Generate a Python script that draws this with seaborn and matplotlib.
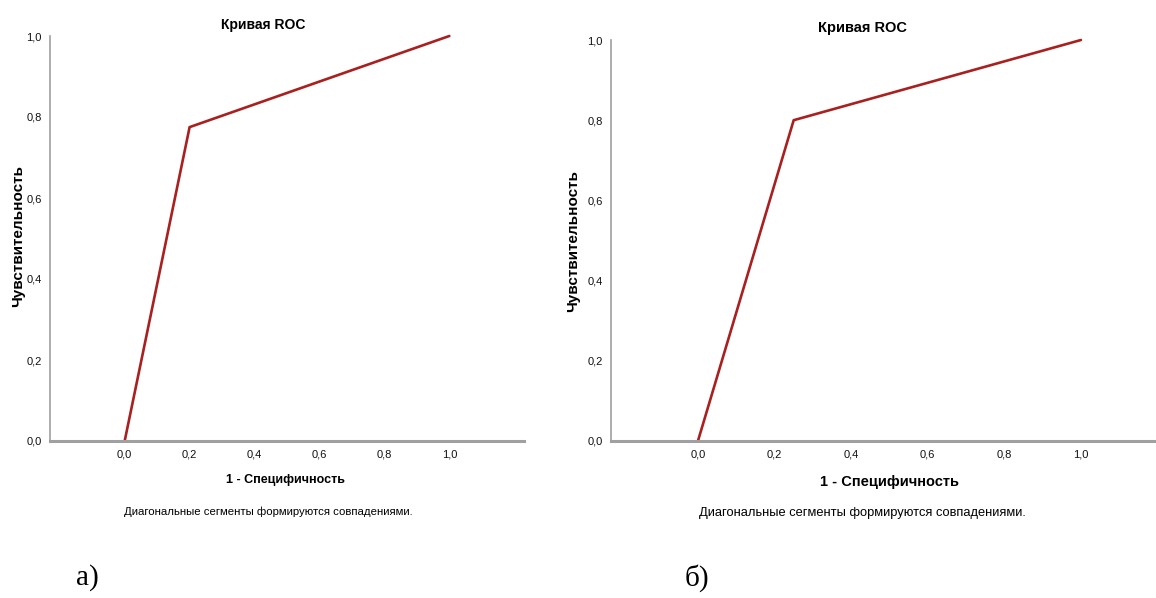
import numpy as np
import pandas as pd
import matplotlib
matplotlib.use('Agg')
import matplotlib.pyplot as plt
import matplotlib.ticker as plticker
import seaborn as sb

# ROC points
fpr_a = [0.0, 0.2, 1.0]
tpr_a = [0.0, 0.775, 1.0]
fpr_b = [0.0, 0.25, 1.0]
tpr_b = [0.0, 0.8, 1.0]
ticks = [0.0, 0.2, 0.4, 0.6, 0.8, 1.0]

sb.set_style('white')
plt.rcParams['font.family'] = ['Liberation Sans Narrow', 'Liberation Sans', 'DejaVu Sans']
plt.rcParams['text.color'] = 'black'

W, H = 1156, 598
fig = plt.figure(figsize=(W / 100, H / 100), dpi=100)

def comma(v, pos):
    return ('%.1f' % v).replace('.', ',')

def panel(px_left, px_right, px_top, px_bottom, xlim, fpr, tpr):
    ax = fig.add_axes([px_left / W, 1 - px_bottom / H,
                       (px_right - px_left) / W, (px_bottom - px_top) / H])
    df = pd.DataFrame({'fpr': fpr, 'tpr': tpr})
    sb.lineplot(data=df, x='fpr', y='tpr', ax=ax, color='#a8201f',
                linewidth=1.9, clip_on=False)
    ax.set_xlim(*xlim)
    ax.set_ylim(0, 1.0)
    ax.set_xticks(ticks)
    ax.set_yticks(ticks)
    ax.xaxis.set_major_formatter(plticker.FuncFormatter(comma))
    ax.yaxis.set_major_formatter(plticker.FuncFormatter(comma))
    ax.set_xlabel('')
    ax.set_ylabel('')
    for s in ['top', 'right']:
        ax.spines[s].set_visible(False)
    ax.spines['left'].set_color('#a0a0a0')
    ax.spines['left'].set_linewidth(1.2)
    ax.spines['bottom'].set_color('#a0a0a0')
    ax.spines['bottom'].set_linewidth(2.2)
    ax.tick_params(axis='both', direction='out', length=4, width=1.2,
                   colors='#222222', labelcolor='#111111', labelsize=8, pad=2)
    return ax

panel(50, 524, 36, 441, (-0.23, 1.23), fpr_a, tpr_a)
panel(611, 1156, 40, 441, (-0.227, 1.196), fpr_b, tpr_b)

def ftext(x, y, s, **kw):
    fig.text(x / W, 1 - y / H, s, ha='center', va='center', **kw)

ftext(263, 25, 'Кривая ROC', fontsize=10, fontweight='bold')
ftext(862, 28, 'Кривая ROC', fontsize=10.5, fontweight='bold')
ftext(18, 236, 'Чувствительность', fontsize=11, fontweight='bold', rotation=90)
ftext(573, 241, 'Чувствительность', fontsize=11, fontweight='bold', rotation=90)
ftext(286, 480, '1 - Специфичность', fontsize=9, fontweight='bold')
ftext(889, 482, '1 - Специфичность', fontsize=10.5, fontweight='bold')
ftext(268, 512, 'Диагональные сегменты формируются совпадениями.', fontsize=8.2)
ftext(862, 513, 'Диагональные сегменты формируются совпадениями.', fontsize=9.3)
ftext(87, 578, 'а)', fontsize=21, family=['Liberation Serif', 'DejaVu Serif'])
ftext(697, 578, 'б)', fontsize=21, family=['Liberation Serif', 'DejaVu Serif'])

fig.savefig('out.png', dpi=100)
